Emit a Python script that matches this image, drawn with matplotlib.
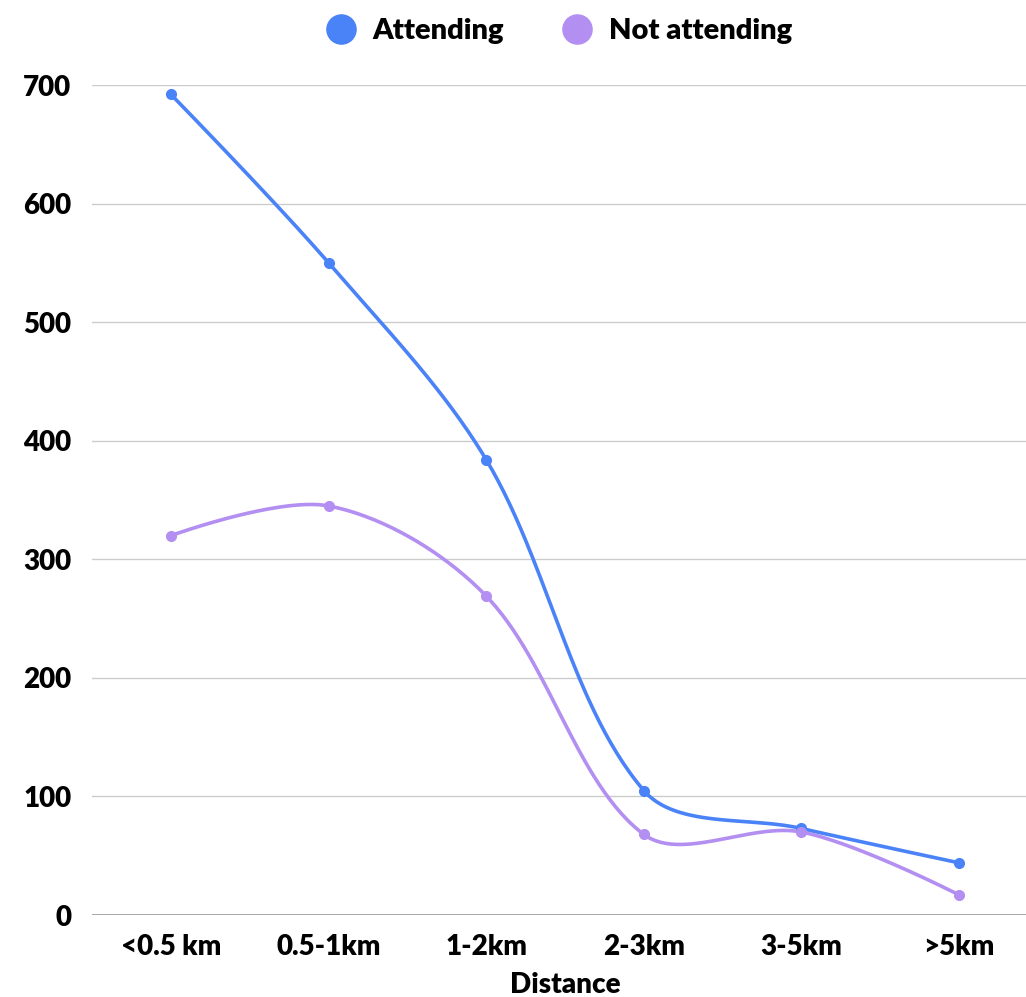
import numpy as np
import matplotlib
matplotlib.use("Agg")
import matplotlib.pyplot as plt
from matplotlib.lines import Line2D

plt.rcParams['font.family'] = ['Lato', 'DejaVu Sans']
plt.rcParams['font.weight'] = 'heavy'
plt.rcParams['axes.labelweight'] = 'heavy'

categories = ["<0.5 km", "0.5-1km", "1-2km", "2-3km", "3-5km", ">5km"]
attending = [692, 550, 384, 105, 73, 44]
not_attending = [320, 345, 269, 68, 70, 17]
series_names = ["Attending", "Not attending"]

blue = '#4A82F7'
purple = '#B38FF2'


def smooth_px(P, tension=1/3, n=60):
    # bezier through the points (in pixel space), handle length weighted
    # by the distance to each neighbour; ends have no handle
    P = np.asarray(P, dtype=float)
    cin = P.copy()
    cout = P.copy()
    for i in range(1, len(P) - 1):
        d1 = np.hypot(*(P[i] - P[i-1]))
        d2 = np.hypot(*(P[i+1] - P[i]))
        v = P[i+1] - P[i-1]
        cin[i] = P[i] - tension * d1 / (d1 + d2) * v
        cout[i] = P[i] + tension * d2 / (d1 + d2) * v
    t = np.linspace(0, 1, n)[:, None]
    out = []
    for i in range(len(P) - 1):
        b = ((1-t)**3 * P[i] + 3*(1-t)**2*t * cout[i]
             + 3*(1-t)*t**2 * cin[i+1] + t**3 * P[i+1])
        out.append(b if i == 0 else b[1:])
    return np.vstack(out)


fig = plt.figure(figsize=(10.26, 9.97), dpi=100)
ax = fig.add_axes([92.2/1026, 82/997, 945.6/1026, 830/997])
ax.set_xlim(-0.5, len(categories) - 0.5)
ax.set_ylim(0, 700)

x = np.arange(len(categories))
for vals, col in [(attending, blue), (not_attending, purple)]:
    pts = ax.transData.transform(np.column_stack([x, vals]))
    curve = ax.transData.inverted().transform(smooth_px(pts))
    ax.plot(curve[:, 0], curve[:, 1], color=col, lw=2.6,
            solid_capstyle='round', zorder=3)
    ax.plot(x, vals, 'o', color=col, ms=7, zorder=4)

ax.set_yticks(range(0, 701, 100))
ax.set_xticks(x)
ax.set_xticklabels(categories)
ax.tick_params(axis='both', length=0, labelsize=20)
ax.tick_params(axis='y', pad=15)
ax.tick_params(axis='x', pad=14)
for s in ax.spines.values():
    s.set_visible(False)
ax.grid(axis='y', color='#cccccc', lw=1)
ax.axhline(0, color='#999999', lw=1.2, zorder=2)
ax.set_axisbelow(True)
ax.set_xlabel("Distance", fontsize=20, labelpad=8)

handles = [Line2D([], [], ls='none', marker='o', ms=21, color=c) for c in (blue, purple)]
fig.legend(handles, series_names, loc='upper center', bbox_to_anchor=(552/1026, 1.008),
           ncol=2, frameon=False, fontsize=21, handletextpad=0.1, columnspacing=1.5)

fig.savefig('out.png', dpi=100, facecolor='white')
